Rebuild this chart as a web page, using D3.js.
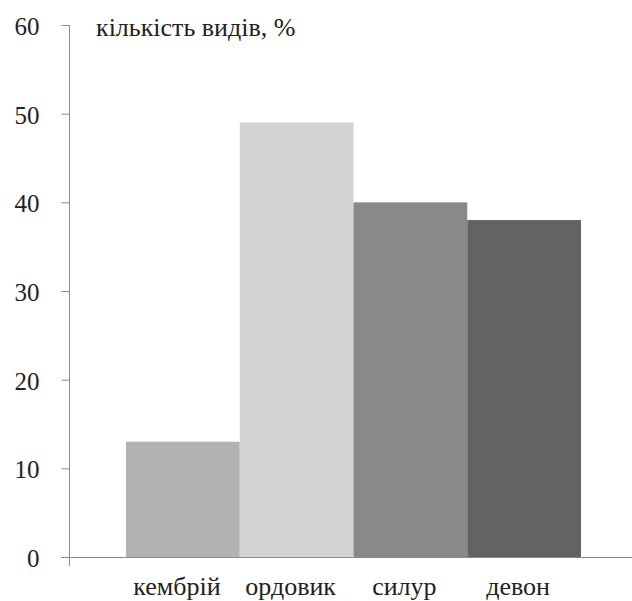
<!DOCTYPE html>
<html>
<head>
<meta charset="utf-8">
<script src="https://cdn.jsdelivr.net/npm/d3@7"></script>
<style>
  html, body { margin: 0; padding: 0; background: #fff; }
  #chart, #chart text { font-family: "Times New Roman", "Liberation Serif", Tinos, serif; }
</style>
</head>
<body>
<svg id="chart" width="632" height="601" style="font-family: 'Times New Roman', 'Liberation Serif', serif"></svg>
<script>
// Share of species per geological period
const periods = ["кембрій", "ордовик", "силур", "девон"];
const speciesShare = [13, 49, 40, 38];
const barColors = ["#b2b2b2", "#d3d3d3", "#898989", "#636363"];
const yTicks = [0, 10, 20, 30, 40, 50, 60];
const yTitle = "кількість видів, %";

const FONT = "'Times New Roman', 'Liberation Serif', serif";
const INK = "#222";
const AXIS = "#8a8a8a";

const svg = d3.select("#chart");
const axisX = 69, baseY = 557, topY = 25;

const y = d3.scaleLinear().domain([0, 60]).range([baseY, topY]);
const x = d3.scaleBand().domain(periods).range([126, 581]).padding(0);

// bars
svg.append("g").selectAll("rect")
  .data(periods)
  .join("rect")
  .attr("x", d => x(d))
  .attr("y", (d, i) => y(speciesShare[i]))
  .attr("width", x.bandwidth())
  .attr("height", (d, i) => baseY - y(speciesShare[i]))
  .attr("fill", (d, i) => barColors[i]);

// y axis
const yAxis = svg.append("g")
  .attr("transform", `translate(${axisX + 0.5},0)`)
  .call(d3.axisLeft(y).tickValues(yTicks).tickSize(8).tickSizeOuter(0).tickPadding(22));
yAxis.attr("font-family", FONT).attr("font-size", 25);
yAxis.select(".domain").attr("stroke", AXIS).attr("d", `M0,${topY}V566`);
yAxis.selectAll(".tick line").attr("stroke", AXIS);
yAxis.selectAll(".tick text")
  .style("font-family", FONT)
  .attr("fill", INK)
  .attr("font-size", 25)
  .attr("dy", "0.38em");

// x axis baseline
svg.append("line")
  .attr("x1", 61).attr("x2", 632)
  .attr("y1", baseY + 0.5).attr("y2", baseY + 0.5)
  .attr("stroke", AXIS);

// category labels
svg.append("g").selectAll("text")
  .data(periods)
  .join("text")
  .style("font-family", FONT)
  .attr("x", d => x(d) + x.bandwidth() / 2 - 6)
  .attr("y", 595)
  .attr("text-anchor", "middle")
  .attr("font-size", 26)
  .attr("fill", INK)
  .text(d => d);

// axis title
svg.append("text")
  .style("font-family", FONT)
  .attr("x", 96).attr("y", 36)
  .attr("font-size", 26)
  .attr("fill", INK)
  .text(yTitle);
</script>
</body>
</html>
